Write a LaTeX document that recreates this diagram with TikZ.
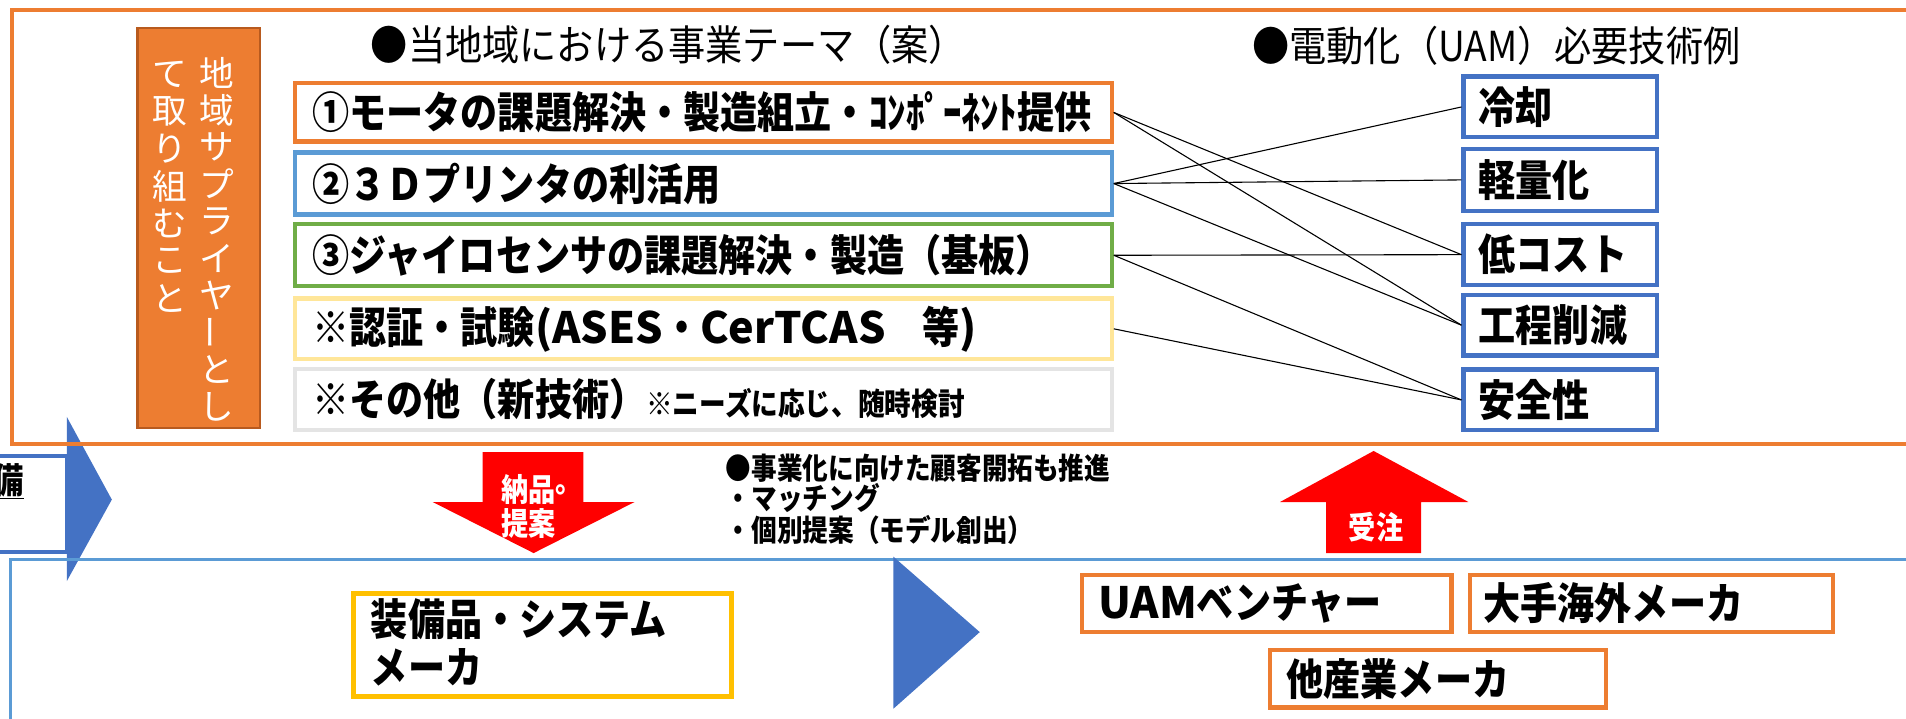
\documentclass[tikz,border=0pt]{standalone}
\usepackage{fontspec}
\usepackage{graphicx}
\setmainfont{Noto Sans CJK JP}
\newfontfamily\cb[FakeStretch=0.86]{Noto Sans CJK JP}
\newfontfamily\cl[FakeStretch=0.9]{Noto Sans CJK JP}
\newfontfamily\lat{Noto Sans CJK JP}
\definecolor{corange}{HTML}{ED7D31}
\definecolor{cdorange}{HTML}{B85A1E}
\definecolor{cblue}{HTML}{4472C4}
\definecolor{clblue}{HTML}{5B9BD5}
\definecolor{cgreen}{HTML}{70AD47}
\definecolor{cyellow}{HTML}{FFE699}
\definecolor{cgray}{HTML}{E4E4E4}
\definecolor{cgold}{HTML}{FFC000}
\newcommand\vbar{\rotatebox[origin=c]{90}{ー}}
\begin{document}
\begin{tikzpicture}[x=1pt,y=-1pt,
  tbox/.style={draw, line width=3.5pt, minimum width=672pt, minimum height=50pt, inner sep=0pt},
  rbox/.style={draw=cblue, line width=3.5pt, minimum width=159pt, minimum height=50pt, inner sep=0pt},
  obox/.style={draw=corange, line width=3.5pt, minimum height=47pt, inner sep=0pt},
  btxt/.style={anchor=west, inner sep=0pt, font=\cb\bfseries\fontsize{35.5}{39}\selectfont},
  htxt/.style={anchor=west, inner sep=0pt, font=\cl\fontsize{34}{36}\selectfont},
  mtxt/.style={anchor=west, inner sep=0pt, font=\cb\bfseries\fontsize{24.5}{28}\selectfont},
  vtxt/.style={inner sep=0pt, text=white, font=\fontsize{28.5}{30}\selectfont},
  wtxt/.style={inner sep=0pt, text=white, font=\cb\bfseries\fontsize{26}{30}\selectfont},
  link/.style={line width=0.9pt, draw=black},
  outerframe/.style={line width=3pt}]
\useasboundingbox (0,0) rectangle (1568,591);
\clip (0,0) rectangle (1568,591);
\fill[white] (0,0) rectangle (1568,591);

% middle band left partial box
\draw[cblue, line width=3pt] (-10,375) rectangle (55,454);
\node[anchor=east, inner sep=0pt, font=\cb\bfseries\fontsize{29}{32}\selectfont] (bi) at (20,396) {\underline{備}};
% blue triangles
\fill[cblue] (55,343) -- (92,411) -- (55,478) -- cycle;
% frames
\draw[clblue, outerframe, line width=2.5pt] (9,460) rectangle (1600,620);
\draw[corange, outerframe] (10,8) rectangle (1600,365);
\fill[cblue] (735,458) -- (806,520) -- (735,583) -- cycle;

% vertical orange box
\node[draw=cdorange, fill=corange, line width=2pt, minimum width=101pt, minimum height=329pt, inner sep=0pt] (vb) at (163.5,187.5) {};
\foreach \c [count=\i] in {地,域,サ,プ,ラ,イ,ヤ,\vbar,と,し}
  \node[vtxt] (vr\i) at (178,{60+30.5*(\i-1)}) {\c};
\foreach \c [count=\i] in {て,取,り,組,む,こ,と}
  \node[vtxt] (vl\i) at (140,{61+30.7*(\i-1)}) {\c};

% headers
\node[htxt] (h1) at (305,37) {●当地域における事業テーマ（案）};
\node[htxt] (h2) at (1030,38) {●電動化（UAM）必要技術例};

% theme boxes
\node[tbox, draw=corange, minimum height=48pt] (t1) at (578.5,92.5) {};
\node[tbox, draw=clblue, minimum height=51pt] (t2) at (578.5,151) {};
\node[tbox, draw=cgreen, minimum height=51pt] (t3) at (578.5,210) {};
\node[tbox, draw=cyellow] (t4) at (578.5,270.5) {};
\node[tbox, draw=cgray] (t5) at (578.5,328.5) {};
\node[btxt] (t1t) at ([xshift=16pt]t1.west) {①モータの課題解決・製造組立・ｺﾝﾎﾟｰﾈﾝﾄ提供};
\node[btxt] (t2t) at ([xshift=16pt]t2.west) {②３Ｄプリンタの利活用};
\node[btxt] (t3t) at ([xshift=16pt]t3.west) {③ジャイロセンサの課題解決・製造（基板）};
\node[btxt] (t4t) at ([xshift=16pt]t4.west) {※認証・試験{\lat(ASES}・{\lat CerTCAS}　等{\lat)}};
\node[btxt] (t5t) at ([xshift=16pt]t5.west) {※その他（新技術）{\fontsize{25.5}{28}\selectfont ※ニーズに応じ、随時検討}};

% right boxes
\node[rbox] (r1) at (1283.5,88) {};
\node[rbox, minimum height=51pt] (r2) at (1283.5,148) {};
\node[rbox] (r3) at (1283.5,209.5) {};
\node[rbox] (r4) at (1283.5,267.5) {};
\node[rbox] (r5) at (1283.5,329) {};
\node[btxt] (r1t) at ([xshift=14pt]r1.west) {冷却};
\node[btxt] (r2t) at ([xshift=14pt]r2.west) {軽量化};
\node[btxt] (r3t) at ([xshift=14pt]r3.west) {低コスト};
\node[btxt] (r4t) at ([xshift=14pt]r4.west) {工程削減};
\node[btxt] (r5t) at ([xshift=14pt]r5.west) {安全性};

% links
\draw[link] (t1.east) -- (r3.west);
\draw[link] (t1.east) -- (r4.west);
\draw[link] (t2.east) -- (r1.west);
\draw[link] (t2.east) -- (r2.west);
\draw[link] (t2.east) -- (r4.west);
\draw[link] (t3.east) -- (r3.west);
\draw[link] (t3.east) -- (r5.west);
\draw[link] (t4.east) -- (r5.west);

% red arrows
\fill[red] (397,372) -- (480,372) -- (480,413) -- (522,413) -- (439,455) -- (356,413) -- (397,413) -- cycle;
\node[wtxt, anchor=west] (nohin) at (412,403) {納品\raisebox{8pt}{。}};
\node[wtxt, anchor=west] (teian) at (412,431) {提案};
\fill[red] (1091,455) -- (1169,455) -- (1169,413) -- (1208,413) -- (1130,371) -- (1053,413) -- (1091,413) -- cycle;
\node[wtxt] (juchu) at (1132,434) {受注};

% middle text
\node[mtxt] (m1) at (597,385) {●事業化に向けた顧客開拓も推進};
\node[mtxt] (m2) at (597,410) {・マッチング};
\node[mtxt] (m3) at (597,436) {・個別提案（モデル創出）};

% bottom boxes
\node[draw=cgold, line width=4pt, minimum width=311pt, minimum height=85pt, inner sep=0pt] (sb) at (446.5,530.5) {};
\node[btxt, align=left] (sbt) at (305,528.5) {装備品・システム\\メーカ};
\node[obox, minimum width=304pt] (ua) at (1042,496.5) {};
\node[obox, minimum width=299pt] (ot) at (1358.5,496.5) {};
\node[obox, minimum width=276pt] (ti) at (1183,558.5) {};
\node[btxt] (uat) at ([xshift=15pt]ua.west) {{\lat UAM}ベンチャー};
\node[btxt] (ott) at ([xshift=13pt]ot.west) {大手海外メーカ};
\node[btxt] (tit) at ([xshift=15pt]ti.west) {他産業メーカ};
\end{tikzpicture}
\end{document}
